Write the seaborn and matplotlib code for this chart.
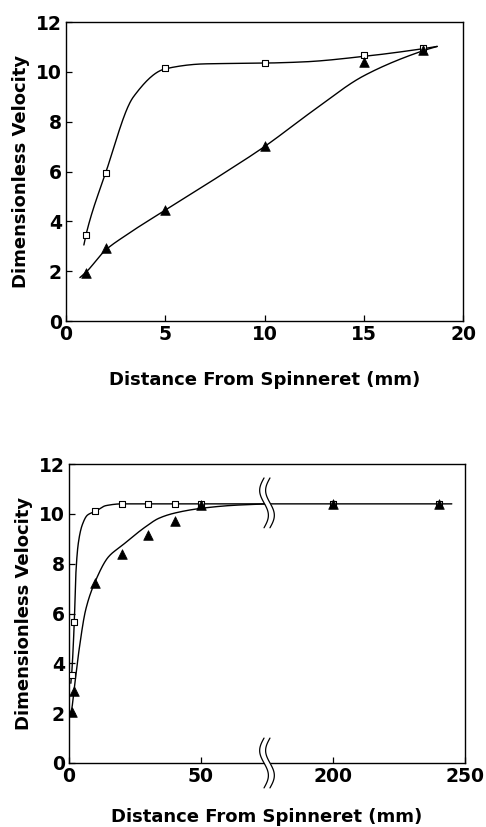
import numpy as np
import pandas as pd
import matplotlib
matplotlib.use("Agg")
import matplotlib.pyplot as plt
import seaborn as sns

# ---- Near-spinneret profile (0-20 mm) ----
near_x_sq = [1, 2, 5, 10, 15, 18]
near_v_sq = [3.44, 5.95, 10.15, 10.35, 10.67, 10.96]
near_x_tri = [1, 2, 5, 10, 15, 18]
near_v_tri = [1.92, 2.94, 4.45, 7.02, 10.38, 10.86]

# hand-drawn guide curves (knots)
near_curve_sq_x = [0.9, 1, 2, 3.4, 5, 7, 10, 12, 15, 18, 18.7]
near_curve_sq_v = [3.05, 3.44, 5.95, 9.0, 10.12, 10.32, 10.35, 10.4, 10.62, 10.93, 11.02]
near_curve_tri_x = [0.7, 1, 2, 3, 5, 7.5, 10, 12.5, 15, 18, 18.7]
near_curve_tri_v = [1.74, 1.95, 2.85, 3.43, 4.45, 5.7, 7.0, 8.47, 9.84, 10.85, 11.02]

# ---- Full spin-line profile (0-250 mm, broken axis) ----
far_x_sq = [1, 2, 10, 20, 30, 40, 50, 200, 240]
far_v_sq = [3.55, 5.65, 10.1, 10.4, 10.4, 10.4, 10.4, 10.4, 10.4]
far_x_tri = [1, 2, 10, 20, 30, 40, 50, 200, 240]
far_v_tri = [2.06, 2.9, 7.22, 8.4, 9.15, 9.72, 10.35, 10.38, 10.38]

far_curve_sq_x = [0.7, 1, 2, 2.6, 3.5, 5, 7, 10, 14, 20, 245]
far_curve_sq_v = [3.2, 3.55, 5.65, 7.6, 8.8, 9.55, 9.95, 10.1, 10.33, 10.4, 10.4]
far_curve_tri_x = [0.3, 1, 2, 3.8, 6.3, 10, 15, 20, 29, 34, 40, 50, 62, 75]
far_curve_tri_v = [1.9, 2.15, 3.0, 4.53, 6.14, 7.3, 8.28, 8.72, 9.48, 9.82, 10.03, 10.22, 10.34, 10.4]

y_ticks = [0, 2, 4, 6, 8, 10, 12]
near_x_ticks = [0, 5, 10, 15, 20]
far_x_ticks = [0, 50, 200, 250]
x_label = "Distance From Spinneret (mm)"
y_label = "Dimensionless Velocity"


def pchip(xk, yk, xs):
    """Monotone piecewise-cubic Hermite curve through the knots."""
    xk = np.asarray(xk, float)
    yk = np.asarray(yk, float)
    h = np.diff(xk)
    d = np.diff(yk) / h
    m = np.zeros_like(yk)
    for i in range(1, len(xk) - 1):
        if d[i - 1] * d[i] > 0:
            w1 = 2 * h[i] + h[i - 1]
            w2 = h[i] + 2 * h[i - 1]
            m[i] = (w1 + w2) / (w1 / d[i - 1] + w2 / d[i])
    m[0] = d[0]
    m[-1] = d[-1]
    idx = np.clip(np.searchsorted(xk, xs) - 1, 0, len(h) - 1)
    t = (xs - xk[idx]) / h[idx]
    h00 = 2 * t**3 - 3 * t**2 + 1
    h10 = t**3 - 2 * t**2 + t
    h01 = -2 * t**3 + 3 * t**2
    h11 = t**3 - t**2
    return (h00 * yk[idx] + h10 * h[idx] * m[idx]
            + h01 * yk[idx + 1] + h11 * h[idx] * m[idx + 1])


def curve_frame(xk, yk):
    xs = np.unique(np.concatenate([np.linspace(a, b, 40) for a, b in zip(xk[:-1], xk[1:])]))
    return pd.DataFrame({"x": xs, "v": pchip(xk, yk, xs)})


sns.set_style("ticks")
plt.rcParams["font.family"] = ["DejaVu Sans"]
plt.rcParams["font.weight"] = "bold"
plt.rcParams["axes.labelweight"] = "bold"
plt.rcParams["axes.labelcolor"] = "black"
plt.rcParams["text.color"] = "black"
plt.rcParams["xtick.color"] = "black"
plt.rcParams["ytick.color"] = "black"
plt.rcParams["xtick.direction"] = "in"
plt.rcParams["ytick.direction"] = "in"

fig = plt.figure(figsize=(4.86, 8.27), dpi=100)
ax1 = fig.add_axes([66 / 486, 1 - 321 / 827, 397 / 486, 299 / 827])
ax2 = fig.add_axes([69 / 486, 1 - 763 / 827, 396 / 486, 299 / 827])

line_kw = dict(color="black", linewidth=1.0, sort=False, estimator=None, legend=False)
sq_kw = dict(marker="s", s=16, facecolor="white", edgecolor="black", linewidth=0.8,
             zorder=5, legend=False)
tri_kw = dict(marker="^", s=48, color="black", edgecolor="black", linewidth=0.5,
              zorder=6, legend=False)

# ---- top panel ----
for xk, yk in [(near_curve_sq_x, near_curve_sq_v), (near_curve_tri_x, near_curve_tri_v)]:
    df = curve_frame(xk, yk)
    sns.lineplot(data=df, x="x", y="v", ax=ax1, **line_kw)
sns.scatterplot(x=near_x_sq, y=near_v_sq, ax=ax1, **sq_kw)
sns.scatterplot(x=near_x_tri, y=near_v_tri, ax=ax1, **tri_kw)
ax1.set_xlim(0, 20)
ax1.set_ylim(0, 12)
ax1.set_xticks(near_x_ticks)
ax1.set_yticks(y_ticks)


# ---- bottom panel: broken x axis (75-175 mm removed) ----
def fwd(x):
    x = np.asarray(x, float)
    return np.where(x <= 75, x, np.where(x >= 175, x - 100, 75.0))


def inv(u):
    u = np.asarray(u, float)
    return np.where(u <= 75, u, u + 100)


ax2.set_xscale("function", functions=(fwd, inv))
for xk, yk in [(far_curve_sq_x, far_curve_sq_v), (far_curve_tri_x, far_curve_tri_v)]:
    df = curve_frame(xk, yk)
    sns.lineplot(data=df, x="x", y="v", ax=ax2, **line_kw)
sns.scatterplot(x=far_x_sq, y=far_v_sq, ax=ax2, **sq_kw)
sns.scatterplot(x=far_x_tri, y=far_v_tri, ax=ax2, **tri_kw)
ax2.set_xlim(0, 250)
ax2.set_ylim(0, 12)
ax2.set_xticks(far_x_ticks)
ax2.set_xticklabels([str(t) for t in far_x_ticks])
ax2.set_yticks(y_ticks)

# wavy break marks at the cut (cut sits at mid-width of the axis)
ylo, yhi = ax2.get_ylim()
s = np.linspace(-1, 1, 80)
amp, gap = 0.011, 0.015
for yc in (10.44, 0.0):
    yy = (yc + 1.0 * s - ylo) / (yhi - ylo)
    xo = -amp * np.sin(np.pi * s)
    ax2.fill_betweenx(yy, 0.5 - gap / 2 + xo, 0.5 + gap / 2 + xo, color="white",
                      transform=ax2.transAxes, zorder=7, clip_on=False, linewidth=0)
    for side in (-gap / 2, gap / 2):
        ax2.plot(0.5 + side + xo, yy, color="black", linewidth=0.9,
                 transform=ax2.transAxes, zorder=8, clip_on=False)
ax2.set_xlim(0, 250)
ax2.set_ylim(0, 12)

for ax in (ax1, ax2):
    for sp in ax.spines.values():
        sp.set_visible(True)
        sp.set_color("black")
        sp.set_linewidth(1.0)
    ax.tick_params(axis="both", which="major", length=4, width=0.9, labelsize=13.5,
                   pad=3, top=False, right=False, colors="black")
    for lab in ax.get_xticklabels() + ax.get_yticklabels():
        lab.set_fontweight("bold")
    ax.set_ylabel(y_label, fontsize=13, fontweight="bold", labelpad=4, color="black")
    ax.grid(False)
ax1.set_xlabel(x_label, fontsize=13, fontweight="bold", labelpad=19, color="black")
ax2.set_xlabel(x_label, fontsize=13, fontweight="bold", labelpad=16, color="black")

fig.savefig("out.png", dpi=100, facecolor="white")
